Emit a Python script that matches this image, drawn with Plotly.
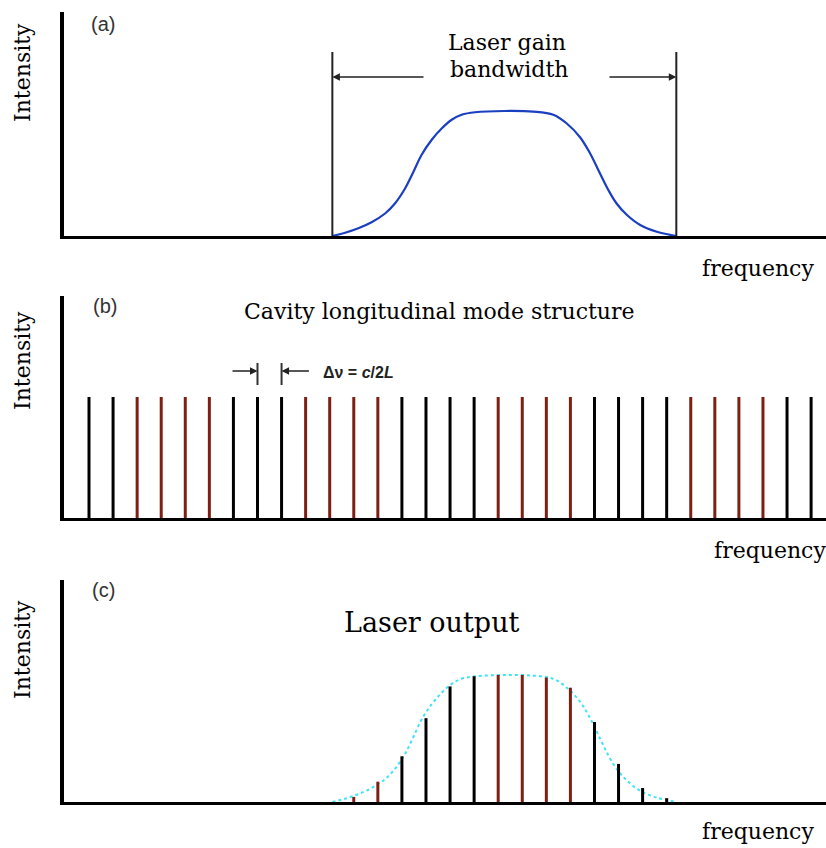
import plotly.graph_objects as go

# ---- data -------------------------------------------------------------
# frequency axis measured in units of the mode spacing (c/2L)
mode_index = list(range(31))
mode_height = [1.0] * len(mode_index)
highlight_modes = [2, 3, 4, 5, 9, 10, 11, 12, 17, 18, 19, 20, 25, 26, 27, 28]

# gain profile (normalised intensity vs frequency)
gain_freq = [10.11, 10.64, 11.19, 11.74, 12.30, 12.71, 13.13, 13.47, 13.82, 14.24,
             14.65, 15.07, 15.48, 16.04, 17.28, 18.46, 19.29, 19.85, 20.40, 20.82,
             21.23, 21.57, 21.92, 22.34, 22.90, 23.59, 24.40]
gain_level = [0.00, 0.026, 0.062, 0.11, 0.18, 0.26, 0.38, 0.51, 0.65, 0.77,
              0.86, 0.93, 0.97, 0.99, 1.00, 0.995, 0.97, 0.90, 0.79, 0.66,
              0.50, 0.37, 0.26, 0.17, 0.088, 0.034, 0.00]
bandwidth_edges = [10.11, 24.40]

# modes that lase, and their output intensity
output_modes = [11, 12, 13, 14, 15, 16, 17, 18, 19, 20, 21, 22, 23, 24]
output_level = [0.04, 0.16, 0.36, 0.66, 0.91, 0.99, 1.00, 1.00, 0.98, 0.90,
                0.63, 0.30, 0.11, 0.03]

# ---- geometry helpers -------------------------------------------------
W, H = 826, 848
BLACK = "#000000"
RED = "#7d1f12"
BLUE = "#1a3fc0"
CYAN = "#3fe3f5"
SERIF = "DejaVu Serif"
SANS = "Liberation Sans, Arial, sans-serif"


def px_x(p):
    return p / W


def px_y(p):
    return 1 - p / H


X_LEFT_PX = 64
MODE0_PX = 89.0
SPACING_PX = 24.07
x_range = [-(MODE0_PX - X_LEFT_PX) / SPACING_PX, (W - MODE0_PX) / SPACING_PX]

# (top px, baseline px, px per unit intensity) for each panel
panels = [(12, 236, 125.0), (296, 518, 121.0), (580, 802, 127.0)]


def stems(xs, hs):
    xx, yy = [], []
    for x, h in zip(xs, hs):
        xx += [x, x, None]
        yy += [0, h, None]
    return xx, yy


fig = go.Figure()

# ---- (a) gain bandwidth ----------------------------------------------
fig.add_trace(go.Scatter(x=gain_freq, y=gain_level, mode="lines",
                         line=dict(color=BLUE, width=2.2, shape="spline", smoothing=1.0),
                         xaxis="x", yaxis="y", hoverinfo="skip"))
edge_top = (panels[0][1] - 52) / panels[0][2]
ex, ey = stems(bandwidth_edges, [edge_top] * 2)
fig.add_trace(go.Scatter(x=ex, y=ey, mode="lines", line=dict(color="#222222", width=2),
                         xaxis="x", yaxis="y", hoverinfo="skip"))

# ---- (b) cavity modes -------------------------------------------------
blk = [k for k in mode_index if k not in highlight_modes]
red = [k for k in mode_index if k in highlight_modes]
bx, by = stems(blk, [mode_height[k] for k in blk])
rx, ry = stems(red, [mode_height[k] for k in red])
fig.add_trace(go.Scatter(x=bx, y=by, mode="lines", line=dict(color=BLACK, width=3),
                         xaxis="x2", yaxis="y2", hoverinfo="skip"))
fig.add_trace(go.Scatter(x=rx, y=ry, mode="lines", line=dict(color=RED, width=3),
                         xaxis="x2", yaxis="y2", hoverinfo="skip"))
tick_lo = (panels[1][1] - 385) / panels[1][2]
tick_hi = (panels[1][1] - 363) / panels[1][2]
tx, ty = stems([7, 8], [tick_hi, tick_hi])
ty = [tick_lo if v == 0 else v for v in ty]
fig.add_trace(go.Scatter(x=tx, y=ty, mode="lines", line=dict(color="#333333", width=2),
                         xaxis="x2", yaxis="y2", hoverinfo="skip"))

# ---- (c) laser output -------------------------------------------------
fig.add_trace(go.Scatter(x=gain_freq, y=gain_level, mode="lines",
                         line=dict(color=CYAN, width=2, dash="dot", shape="spline", smoothing=1.0),
                         xaxis="x3", yaxis="y3", hoverinfo="skip"))
out_blk = [(k, v) for k, v in zip(output_modes, output_level) if k not in highlight_modes]
out_red = [(k, v) for k, v in zip(output_modes, output_level) if k in highlight_modes]
ox, oy = stems([k for k, _ in out_blk], [v for _, v in out_blk])
fig.add_trace(go.Scatter(x=ox, y=oy, mode="lines", line=dict(color=BLACK, width=3),
                         xaxis="x3", yaxis="y3", hoverinfo="skip"))
ox, oy = stems([k for k, _ in out_red], [v for _, v in out_red])
fig.add_trace(go.Scatter(x=ox, y=oy, mode="lines", line=dict(color=RED, width=3),
                         xaxis="x3", yaxis="y3", hoverinfo="skip"))

# ---- axes -------------------------------------------------------------
layout_axes = {}
for i, (top, base, scale) in enumerate(panels):
    sfx = "" if i == 0 else str(i + 1)
    layout_axes["xaxis" + sfx] = dict(
        domain=[px_x(X_LEFT_PX), 1], range=x_range, anchor="y" + sfx,
        showline=True, linecolor=BLACK, linewidth=3, showticklabels=False,
        ticks="", showgrid=False, zeroline=False, fixedrange=True)
    layout_axes["yaxis" + sfx] = dict(
        domain=[px_y(base), px_y(top)], range=[0, (base - top) / scale],
        anchor="x" + sfx, showline=True, linecolor=BLACK, linewidth=4,
        showticklabels=False, ticks="", showgrid=False, zeroline=False, fixedrange=True)

# ---- text -------------------------------------------------------------
ann = []


def label(text, x, y, size, family=SERIF, color=BLACK, angle=0):
    ann.append(dict(text=text, x=px_x(x), y=px_y(y), xref="paper", yref="paper",
                    showarrow=False, xanchor="center", yanchor="middle", textangle=angle,
                    font=dict(family=family, size=size, color=color)))


for yc in (73, 361, 650):
    label("Intensity", 22, yc, 22, angle=-90)
label("frequency", 758, 268, 22)
label("frequency", 770, 550, 22)
label("frequency", 758, 831, 22)
label("(a)", 103, 24, 20, family=SANS, color="#333333")
label("(b)", 105, 306, 20, family=SANS, color="#333333")
label("(c)", 103, 590, 20, family=SANS, color="#333333")
label("Laser gain", 507, 42, 22)
label("bandwidth", 509, 70, 22)
label("Cavity longitudinal mode structure", 439, 311, 22)
label("Laser output", 432, 622, 27)
ann.append(dict(text="<b>Δν = <i>c</i>/2<i>L</i></b>", x=9.65, y=(panels[1][1] - 372) / panels[1][2],
                xref="x2", yref="y2", showarrow=False, xanchor="left", yanchor="middle",
                font=dict(family=SANS, size=16, color="#222222")))


def arrow(xref, yref, x_head, x_tail, y):
    ann.append(dict(text="", x=x_head, y=y, ax=x_tail, ay=y, xref=xref, yref=yref,
                    axref=xref, ayref=yref, showarrow=True, arrowhead=2, arrowsize=1,
                    arrowwidth=1.5, arrowcolor="#222222", standoff=0, startstandoff=0))


# bandwidth arrows in (a)
y_arrow_a = (panels[0][1] - 77) / panels[0][2]
arrow("x", "y", bandwidth_edges[0], (425 - MODE0_PX) / SPACING_PX, y_arrow_a)
arrow("x", "y", bandwidth_edges[1], (608 - MODE0_PX) / SPACING_PX, y_arrow_a)

# mode spacing arrows in (b)
y_arrow_b = (panels[1][1] - 371) / panels[1][2]
arrow("x2", "y2", 7, 5.9, y_arrow_b)
arrow("x2", "y2", 8, 9.2, y_arrow_b)

fig.update_layout(
    width=W, height=H, margin=dict(l=0, r=0, t=0, b=0),
    paper_bgcolor="white", plot_bgcolor="white", showlegend=False,
    annotations=ann, **layout_axes)

fig.write_html("out.html")
